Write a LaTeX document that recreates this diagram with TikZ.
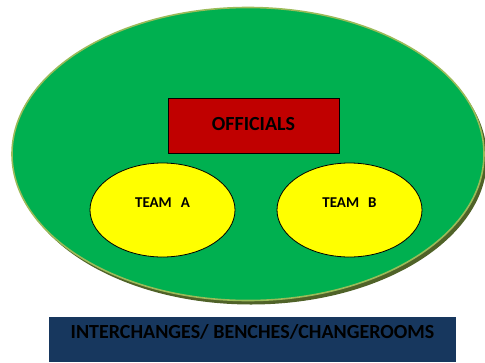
\documentclass[tikz,border=0pt]{standalone}
\usepackage{fontspec}
\setmainfont{Carlito}
\usetikzlibrary{shapes.geometric,shadows,positioning}
\definecolor{pitch}{HTML}{00B050}
\definecolor{pitchrim}{HTML}{9BBB59}
\definecolor{pitchshade}{HTML}{4F6228}
\definecolor{offred}{HTML}{C00000}
\definecolor{teamyel}{HTML}{FFFF00}
\definecolor{benchblue}{HTML}{17375E}
\tikzset{
  basic/.style  = {inner sep=0pt, font=\bfseries},
  field/.style  = {basic, ellipse, fill=pitch, draw=pitchrim, line width=1.6pt,
                   drop shadow={shadow xshift=3pt, shadow yshift=-4pt,
                   fill=pitchshade, opacity=1}},
  officials/.style = {basic, rectangle, draw, thick, fill=offred,
                   font=\bfseries\fontsize{20}{22}\selectfont},
  team/.style   = {basic, ellipse, draw, thick, fill=teamyel,
                   minimum width=145pt, minimum height=94pt},
  bench/.style  = {basic, rectangle, fill=benchblue,
                   minimum width=407pt, minimum height=45pt}
}
\begin{document}
\begin{tikzpicture}[x=1pt,y=-1pt]
\useasboundingbox (0,0) rectangle (485,362);

% playing field
\node[field, minimum width=472pt, minimum height=293pt] (field) at (248,154) {};

% officials and the two teams
\node[officials, minimum width=171pt, minimum height=55pt] (off) at (253.5,125.5) {\raisebox{3pt}{OFFICIALS}};
\node[team, label={[name=taL, yshift=7pt, font=\bfseries\fontsize{15}{17}\selectfont]center:{TEAM\hspace{9pt}A}}] (ta) at (162.5,210) {};
\node[team, label={[name=tbL, yshift=7pt, font=\bfseries\fontsize{15}{17}\selectfont]center:{TEAM\hspace{9pt}B}}] (tb) at (349.5,210) {};

% interchange area
\node[bench, label={[name=benchL, yshift=8pt, font=\bfseries\fontsize{20}{22}\selectfont]center:{INTERCHANGES/ BENCHES/CHANGEROOMS}}] (bench) at (252.5,339.5) {};
\end{tikzpicture}
\end{document}
